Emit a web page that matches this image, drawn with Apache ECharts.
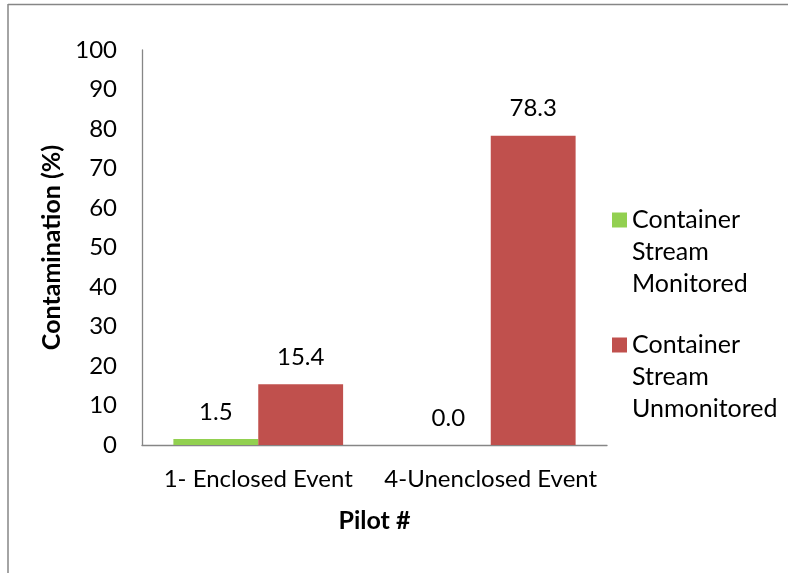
<!DOCTYPE html>
<html>
<head>
<meta charset="utf-8">
<script src="https://cdn.jsdelivr.net/npm/echarts@6/dist/echarts.min.js"></script>
<style>
html,body{margin:0;padding:0;background:#fff;}
#chart{width:788px;height:573px;}
</style>
</head>
<body>
<div id="chart"></div>
<script>
var categories = ['1- Enclosed Event', '4-Unenclosed Event'];
var seriesNames = ['Container Stream Monitored', 'Container Stream Unmonitored'];
var monitored = [1.5, 0.0];
var unmonitored = [15.4, 78.3];
var yTicks = { min: 0, max: 100, interval: 10 };

var FONT = 'Lato';
var chart = echarts.init(document.getElementById('chart'), null, { renderer: 'canvas' });
var labelStyle = {
  show: true, position: 'top', distance: 15,
  color: '#000', fontFamily: FONT, fontSize: 24,
  formatter: function (p) { return p.value.toFixed(1); }
};
chart.setOption({
  backgroundColor: '#fff',
  animation: false,
  textStyle: { fontFamily: FONT },
  graphic: [
    { type: 'line', shape: { x1: 8, y1: 4.5, x2: 788, y2: 4.5 }, style: { stroke: '#868686', lineWidth: 1.5 } },
    { type: 'line', shape: { x1: 8, y1: 4, x2: 8, y2: 573 }, style: { stroke: '#868686', lineWidth: 1.5 } }
  ],
  grid: { left: 142, right: 181, top: 50, bottom: 128, containLabel: false },
  legend: {
    orient: 'vertical',
    left: 612, top: 140,
    padding: 0,
    itemGap: -35,
    itemWidth: 15, itemHeight: 15,
    icon: 'rect',
    data: seriesNames,
    formatter: function (n) { return '\n\n' + n.split(' ').join('\n'); },
    textStyle: { fontFamily: FONT, fontSize: 25, color: '#000', lineHeight: 32 }
  },
  xAxis: {
    type: 'category',
    data: categories,
    name: 'Pilot #',
    nameLocation: 'middle',
    nameGap: 63,
    nameTextStyle: { fontFamily: FONT, fontSize: 25, fontWeight: 'bold', color: '#000' },
    axisLine: { lineStyle: { color: '#868686', width: 1.3 } },
    axisTick: { show: false },
    axisLabel: { color: '#000', fontFamily: FONT, fontSize: 24, margin: 22, interval: 0 }
  },
  yAxis: {
    type: 'value',
    min: yTicks.min, max: yTicks.max, interval: yTicks.interval,
    name: 'Contamination (%)',
    nameLocation: 'middle',
    nameGap: 76,
    nameTextStyle: { fontFamily: FONT, fontSize: 25, fontWeight: 'bold', color: '#000' },
    axisLine: { show: true, lineStyle: { color: '#868686', width: 1.3 } },
    axisTick: { show: false },
    splitLine: { show: false },
    axisLabel: { color: '#000', fontFamily: FONT, fontSize: 24, margin: 25 }
  },
  series: [
    { name: seriesNames[0], type: 'bar', data: monitored, barGap: '0%', barCategoryGap: '27%',
      itemStyle: { color: '#92D050' }, label: labelStyle },
    { name: seriesNames[1], type: 'bar', data: unmonitored, barGap: '0%', barCategoryGap: '27%',
      itemStyle: { color: '#C0504D' }, label: labelStyle }
  ]
});
</script>
</body>
</html>
